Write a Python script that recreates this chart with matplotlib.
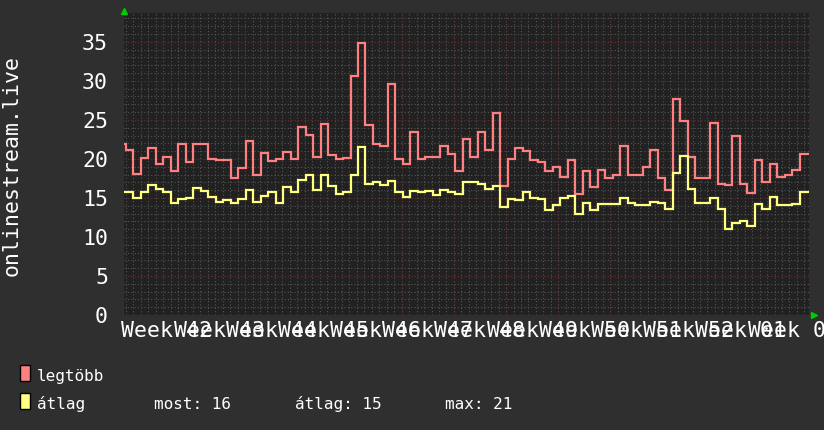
import numpy as np
import matplotlib
matplotlib.use('Agg')
import matplotlib.pyplot as plt
from matplotlib.patches import Rectangle
from matplotlib.transforms import offset_copy

# daily samples (x axis in days, 0 = first week boundary)
t_start = -3.0
step_days = 1.0044

legtobb = [21.9, 21.2, 18.1, 20.1, 21.4, 19.3, 20.2, 18.5, 21.9, 19.6,
           21.9, 21.9, 20.0, 19.8, 19.8, 17.5, 18.9, 22.3, 18.0, 20.7,
           19.7, 20.0, 20.9, 20.0, 24.1, 23.1, 20.2, 24.5, 20.5, 20.0,
           20.1, 30.6, 34.9, 24.4, 21.9, 21.6, 29.6, 20.0, 19.3, 23.5,
           20.0, 20.2, 20.3, 21.6, 20.6, 18.5, 22.5, 20.2, 23.5, 21.1,
           25.9, 16.5, 20.0, 21.4, 21.0, 19.9, 19.6, 18.5, 19.0, 17.7,
           19.9, 15.5, 18.4, 16.4, 18.6, 17.5, 18.0, 21.7, 18.0, 18.0,
           19.0, 21.2, 17.6, 16.0, 27.7, 24.9, 20.2, 17.5, 17.6, 24.6,
           16.8, 16.6, 22.9, 16.8, 15.6, 19.9, 17.0, 19.4, 17.7, 17.9,
           18.6, 20.6, 20.6]

atlag = [15.7, 15.7, 15.0, 15.7, 16.6, 16.2, 15.8, 14.4, 14.9, 15.0,
         16.3, 15.9, 15.1, 14.5, 14.7, 14.3, 14.9, 16.0, 14.5, 15.3,
         15.8, 14.4, 16.4, 15.7, 17.3, 17.9, 16.0, 17.9, 16.5, 15.5,
         15.8, 17.9, 21.5, 16.8, 17.1, 16.7, 17.2, 15.7, 15.1, 15.9,
         15.7, 15.9, 15.4, 16.0, 15.8, 15.5, 17.1, 17.0, 16.8, 16.1,
         16.5, 13.9, 14.9, 14.7, 15.7, 15.0, 14.9, 13.4, 14.1, 15.0,
         15.3, 13.0, 14.4, 13.5, 14.2, 14.2, 14.2, 15.0, 14.3, 14.1,
         14.1, 14.5, 14.3, 13.6, 18.2, 20.4, 16.1, 14.3, 14.3, 15.0,
         13.6, 11.0, 11.8, 12.0, 11.4, 14.2, 13.6, 15.1, 14.1, 14.1,
         14.2, 15.7, 15.7]

week_lines = [0, 7, 14, 21, 28, 35, 42, 49, 56, 63, 70, 77, 84]
week_labels = ['Week 42', 'Week 43', 'Week 44', 'Week 45', 'Week 46',
               'Week 47', 'Week 48', 'Week 49', 'Week 50', 'Week 51',
               'Week 52', 'Week 01', 'Week 02']
legend_stats = ['most: 16', 'átlag: 15', 'max: 21']

BG = '#2f2f2f'
CANVAS = '#212121'
MINOR = '#555555'
MAJOR = '#6a3232'
RED = '#ff8080'
YELLOW = '#ffff80'
ARROW = '#00cc00'

plt.rcParams['font.family'] = ['DejaVu Sans Mono', 'DejaVu Sans']

fig = plt.figure(figsize=(8.24, 4.30), dpi=100, facecolor=BG)
W, H = 824, 430
ax = fig.add_axes([124 / W, 1 - 315 / H, 685 / W, 302 / H], facecolor=CANVAS)

edges = t_start + np.arange(len(legtobb) + 1) * step_days
ax.stairs(legtobb, edges, baseline=None, color=RED, linewidth=1.6, zorder=3)
ax.stairs(atlag, edges, baseline=None, color=YELLOW, linewidth=1.6, zorder=4)

ax.set_xlim(-2.24, 89.62)
ax.set_ylim(0, 38.7)

# grid
dots = (0, (1, 2))
ax.set_xticks(np.arange(-2, 90), minor=True)
ax.set_yticks(np.arange(0, 39), minor=True)
ax.grid(which='minor', color=MINOR, linewidth=0.8, linestyle=dots)
ax.set_yticks(np.arange(0, 36, 5))
ax.grid(which='major', axis='y', color=MAJOR, linewidth=0.8, linestyle=dots)
for w in week_lines:
    ax.axvline(w, color=MAJOR, linewidth=0.8, linestyle=dots, zorder=1)
ax.set_axisbelow(True)

ax.set_xticks([w + 3.5 for w in week_lines])
ax.set_xticklabels(week_labels)
ax.tick_params(which='both', length=0, colors='white', labelsize=15.5)
ax.tick_params(axis='x', pad=4.5)
ax.tick_params(axis='y', pad=11.5)
for s in ax.spines.values():
    s.set_visible(False)

# rrdtool style axis arrows
up = offset_copy(ax.transAxes, fig=fig, x=0.5, y=2.5, units='dots')
ax.plot([0], [1], marker='^', markersize=5, color=ARROW, transform=up, clip_on=False)
right = offset_copy(ax.transAxes, fig=fig, x=4.5, y=0, units='dots')
ax.plot([1], [0], marker='>', markersize=5, color=ARROW, transform=right, clip_on=False)

fig.text(12 / W, 1 - 165 / H, 'onlinestream.live', rotation=90, color='white',
         fontsize=15.5, ha='center', va='center')

# legend
fig.patches.append(Rectangle((20 / W, 1 - 381 / H), 10 / W, 16 / H, transform=fig.transFigure,
                             facecolor=RED, edgecolor='black', linewidth=1))
fig.patches.append(Rectangle((20 / W, 1 - 409 / H), 10 / W, 16 / H, transform=fig.transFigure,
                             facecolor=YELLOW, edgecolor='black', linewidth=1))
fig.text(37 / W, 1 - 381 / H, 'legtöbb', color='white', fontsize=11.5, va='baseline')
fig.text(37 / W, 1 - 409 / H, 'átlag', color='white', fontsize=11.5, va='baseline')
for xs, txt in zip([154, 295, 445], legend_stats):
    fig.text(xs / W, 1 - 409 / H, txt, color='white', fontsize=11.5, va='baseline')

fig.savefig('out.png', dpi=100, facecolor=BG)
